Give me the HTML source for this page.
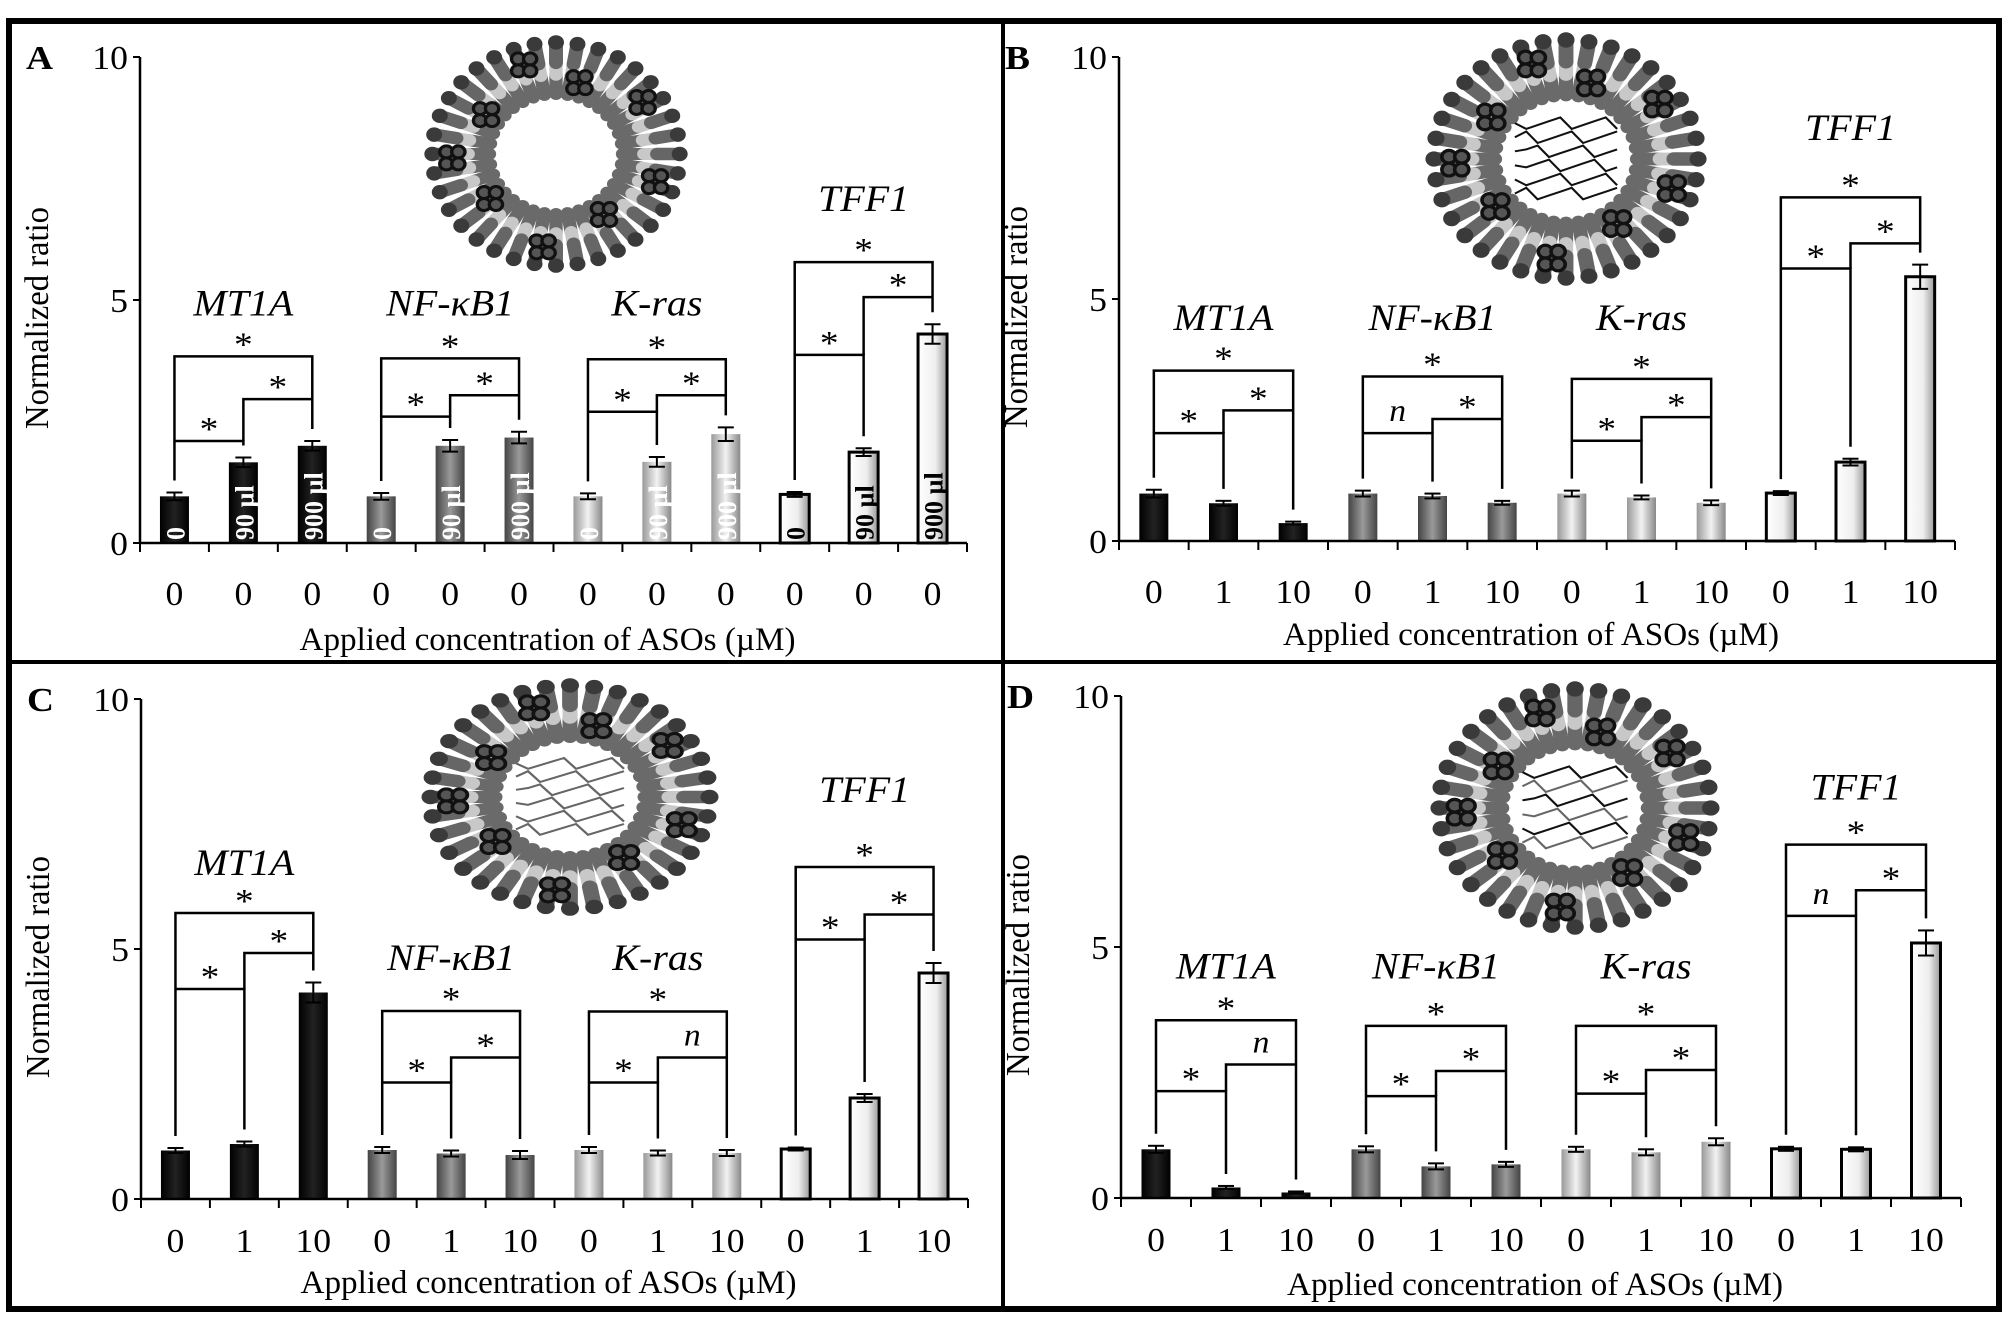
<!DOCTYPE html>
<html><head><meta charset="utf-8"><style>
html,body{margin:0;padding:0;background:#fff}
svg{display:block}
text{font-family:"Liberation Serif",serif;fill:#000}
</style></head><body>
<svg id="fig" width="2008" height="1326" viewBox="0 0 2008 1326" xmlns="http://www.w3.org/2000/svg">
<defs>
<linearGradient id="gNF" x1="0" x2="1"><stop offset="0" stop-color="#444"/><stop offset="0.5" stop-color="#9a9a9a"/><stop offset="1" stop-color="#444"/></linearGradient>
<linearGradient id="gKR" x1="0" x2="1"><stop offset="0" stop-color="#999"/><stop offset="0.5" stop-color="#f2f2f2"/><stop offset="1" stop-color="#888"/></linearGradient>
<linearGradient id="gTF" x1="0" x2="1"><stop offset="0" stop-color="#fff"/><stop offset="0.6" stop-color="#eee"/><stop offset="1" stop-color="#999"/></linearGradient>
<linearGradient id="gMT" x1="0" x2="1"><stop offset="0" stop-color="#000"/><stop offset="0.5" stop-color="#222"/><stop offset="1" stop-color="#000"/></linearGradient>
</defs>
<rect x="9" y="21" width="1990" height="1288" fill="none" stroke="#000" stroke-width="6"/>
<line x1="1003" y1="21" x2="1003" y2="1309" stroke="#000" stroke-width="4"/>
<line x1="9" y1="662" x2="1999" y2="662" stroke="#000" stroke-width="4"/>
</svg>
<script>
// ---- data ----
const genes = ["MT1A", "NF-κB1", "K-ras", "TFF1"];
const panelLetters = ["A", "B", "C", "D"];
const yTicks = [0, 5, 10];
const tickLabelsA = ["0","0","0","0","0","0","0","0","0","0","0","0"];
const tickLabelsBCD = ["0","1","10","0","1","10","0","1","10","0","1","10"];
const barTextA = ["0", "90 µl", "900 µl"];
const valuesA = [0.96,1.66,2.0, 0.96,2.0,2.17, 0.96,1.67,2.24, 1.0,1.87,4.3];
const errorsA = [0.08,0.1,0.1, 0.07,0.12,0.12, 0.06,0.1,0.14, 0.05,0.08,0.2];
const valuesB = [0.98,0.78,0.37, 0.98,0.93,0.79, 0.98,0.9,0.79, 0.99,1.63,5.46];
const errorsB = [0.08,0.05,0.03, 0.06,0.05,0.04, 0.06,0.04,0.05, 0.04,0.07,0.25];
const valuesC = [0.97,1.1,4.13, 0.98,0.91,0.88, 0.98,0.92,0.92, 1.0,2.02,4.52];
const errorsC = [0.05,0.05,0.2, 0.06,0.06,0.08, 0.06,0.05,0.06, 0.03,0.08,0.2];
const valuesD = [0.97,0.21,0.11, 0.97,0.63,0.67, 0.97,0.91,1.12, 0.98,0.97,5.08];
const errorsD = [0.07,0.03,0.02, 0.06,0.06,0.05, 0.05,0.06,0.07, 0.04,0.04,0.25];
// bracket heights per gene: [big, left, right]
const bracketsA = [[3.84,2.1,2.96],[3.8,2.6,3.04],[3.78,2.7,3.04],[5.78,3.87,5.06]];
const bracketsB = [[3.52,2.23,2.7],[3.4,2.23,2.52],[3.35,2.07,2.56],[7.1,5.63,6.15]];
const bracketsC = [[5.72,4.2,4.92],[3.76,2.33,2.83],[3.75,2.33,2.83],[6.64,5.19,5.69]];
const bracketsD = [[3.54,2.13,2.66],[3.43,2.03,2.53],[3.43,2.08,2.55],[7.04,5.62,6.13]];
const sigA = [["*","*","*"],["*","*","*"],["*","*","*"],["*","*","*"]];
const sigB = [["*","*","*"],["*","n","*"],["*","*","*"],["*","*","*"]];
const sigC = [["*","*","*"],["*","*","*"],["*","*","n"],["*","*","*"]];
const sigD = [["*","*","n"],["*","*","*"],["*","*","*"],["*","n","*"]];
const geneLabelY_A = [4.95,4.95,4.95,7.1];
const geneLabelY_B = [4.63,4.63,4.63,8.55];
const geneLabelY_C = [6.74,4.84,4.84,8.2];
const geneLabelY_D = [4.63,4.63,4.63,8.2];

const panels = [
 {id:"a", x0:140, xEnd:967, yTop:57, yBot:543, tickDy:60, titleDy:107, vals:valuesA, errs:errorsA, br:bracketsA, sig:sigA, gl:geneLabelY_A, ticks:tickLabelsA, lip:[556,154,133,120], core:0},
 {id:"b", x0:1119, xEnd:1955, yTop:57, yBot:541, tickDy:60, titleDy:104, vals:valuesB, errs:errorsB, br:bracketsB, sig:sigB, gl:geneLabelY_B, ticks:tickLabelsBCD, lip:[1566,159,142,128], core:1},
 {id:"c", x0:141, xEnd:968, yTop:699, yBot:1199, tickDy:51, titleDy:94, vals:valuesC, errs:errorsC, br:bracketsC, sig:sigC, gl:geneLabelY_C, ticks:tickLabelsBCD, lip:[570,797,150,120], core:2},
 {id:"d", x0:1121, xEnd:1961, yTop:696, yBot:1198, tickDy:51, titleDy:97, vals:valuesD, errs:errorsD, br:bracketsD, sig:sigD, gl:geneLabelY_D, ticks:tickLabelsBCD, lip:[1575,808,146,128], core:3}
];
const fills = ["url(#gMT)","url(#gNF)","url(#gKR)","url(#gTF)"];
const NS="http://www.w3.org/2000/svg";
const svg=document.getElementById("fig");
function mk(tag,attrs,parent){const e=document.createElementNS(NS,tag);for(const k in attrs)e.setAttribute(k,attrs[k]);(parent||svg).appendChild(e);return e;}
function txt(parent,str,x,y,size,sx,extra){
  const a=Object.assign({x:0,y:0,"font-size":size,transform:`translate(${x},${y}) scale(${sx},1)`},extra||{});
  const t=mk("text",a,parent);t.textContent=str;return t;
}

function liposome(g,cx,cy,rx,ry,core){
  const R=ry;
  const lg=mk("g",{transform:`translate(${cx},${cy}) scale(${rx/ry},1)`},g);
  const n=36;
  for(let i=0;i<n;i++){
    const a=i/n*2*Math.PI, c=Math.cos(a), s=Math.sin(a);
    const seg=(r1,r2,col,w)=>mk("line",{x1:c*r1,y1:s*r1,x2:c*r2,y2:s*r2,stroke:col,"stroke-width":w,"stroke-linecap":"round"},lg);
    seg(R*0.5,R*0.66,"#6a6a6a",R*0.1);
    seg(R*0.66,R*0.76,"#c8c8c8",R*0.1);
    seg(R*0.76,R*0.92,"#666",R*0.105);
    mk("circle",{cx:c*R*0.93,cy:s*R*0.93,r:R*0.06,fill:"#3a3a3a"},lg);
  }
  const clusters=[0.3,0.95,1.7,2.5,3.1,3.7,4.4,5.0,5.7];
  clusters.forEach((a,k)=>{
    const r=R*(k%2?0.62:0.78);
    for(let j=0;j<4;j++){
      const x=Math.cos(a)*r+((j%2)-0.5)*R*0.09, y=Math.sin(a)*r+(j<2?-1:1)*R*0.05;
      mk("circle",{cx:x,cy:y,r:R*0.05,fill:"#555",stroke:"#111","stroke-width":R*0.025},lg);
    }
  });
  if(core){
    for(let k=0;k<6;k++){
      const col=core===2?"#666":(core===3&&k%2?"#666":"#111");
      let d="M"+(-R*0.36)+" "+(-R*0.28+k*R*0.11);
      for(let j=1;j<=9;j++) d+=" L"+(-R*0.36+j*R*0.08)+" "+(-R*0.28+k*R*0.11+((j*3+k)%4-1.5)*R*0.03);
      mk("path",{d:d,fill:"none",stroke:col,"stroke-width":2},lg);
    }
  }
}

panels.forEach((p,pi)=>{
  const g=mk("g",{});
  
  
  const slot=(p.xEnd-p.x0)/12;
  const ys=v=>p.yBot-(p.yBot-p.yTop)*v/10;
  const xc=i=>p.x0+slot*(i+0.5);
  const lg=mk("g",{},g);
  
  
  liposome(lg,p.lip[0],p.lip[1],p.lip[2],p.lip[3],p.core);
  const L=txt(g,panelLetters[pi],p.x0-114,p.yTop+12,34,1.1,{"font-weight":"bold"});
  
  
  const ya=mk("line",{x1:p.x0,y1:p.yTop,x2:p.x0,y2:p.yBot,stroke:"#000","stroke-width":2.5},g);
  
  
  yTicks.forEach(t=>{
    mk("line",{x1:p.x0-7,y1:ys(t),x2:p.x0,y2:ys(t),stroke:"#000","stroke-width":2},g);
    const tl=txt(g,String(t),p.x0-12,ys(t)+12,34,1.05,{"text-anchor":"end"});
    
    
  });
  const yt=mk("text",{x:(p.yTop+p.yBot)/2*0,y:0,"font-size":34,"text-anchor":"middle",textLength:222,lengthAdjust:"spacingAndGlyphs",transform:`translate(${p.x0-92},${(p.yTop+p.yBot)/2+18}) rotate(-90)`},g);
  yt.textContent="Normalized ratio";
  
  
  p.vals.forEach((v,i)=>{
    const gi=Math.floor(i/3), w=29, x=xc(i)-w/2;
    const b=mk("rect",{x:x,y:ys(v),width:w,height:ys(0)-ys(v),fill:fills[gi],stroke:gi===3?"#000":"none","stroke-width":gi===3?3:0},g);
    
    
    const e=p.errs[i];
    mk("line",{x1:xc(i),y1:ys(v+e),x2:xc(i),y2:ys(v-e),stroke:"#000","stroke-width":2},g);
    mk("line",{x1:xc(i)-8,y1:ys(v+e),x2:xc(i)+8,y2:ys(v+e),stroke:"#000","stroke-width":2},g);
    mk("line",{x1:xc(i)-8,y1:ys(v-e),x2:xc(i)+8,y2:ys(v-e),stroke:"#000","stroke-width":2},g);
    if(pi===0){
      const s=barTextA[i%3];
      const bt=mk("text",{x:0,y:0,"font-size":26,"font-weight":"bold","text-anchor":"start",transform:`translate(${xc(i)+10},${ys(0)-3}) rotate(-90)`},g);
      bt.style.fill=gi===3?"#000":"#fff";
      bt.textContent=s;
      
      
    }
  });
  const xa=mk("line",{x1:p.x0,y1:p.yBot,x2:p.xEnd,y2:p.yBot,stroke:"#000","stroke-width":2.5},g);
  
  
  for(let k=0;k<=12;k++) mk("line",{x1:p.x0+slot*k,y1:p.yBot,x2:p.x0+slot*k,y2:p.yBot+9,stroke:"#000","stroke-width":2},g);
  p.ticks.forEach((t,i)=>{
    const tl=txt(g,t,xc(i),p.yBot+p.tickDy+2,34,1.05,{"text-anchor":"middle"});
    
    
  });
  const xt=mk("text",{x:(p.x0+p.xEnd)/2-6,y:p.yBot+p.titleDy,"font-size":33,"text-anchor":"middle",textLength:496,lengthAdjust:"spacingAndGlyphs"},g);
  xt.textContent="Applied concentration of ASOs (µM)";
  
  
  genes.forEach((gn,gi)=>{
    const i0=gi*3, x1=xc(i0), x2=xc(i0+1), x3=xc(i0+2);
    const [hb,hl,hr]=p.br[gi];
    const top=i=>ys(p.vals[i]+p.errs[i])-12;
    const st={stroke:"#000","stroke-width":2.5,fill:"none"};
    const big=mk("path",Object.assign({d:`M${x1} ${top(i0)} V${ys(hb)} H${x3} V${top(i0+2)}`},st),g);
    
    
    mk("path",Object.assign({d:`M${x1} ${ys(hl)} H${x2} V${top(i0+1)}`},st),g);
    mk("path",Object.assign({d:`M${x2} ${ys(hl)} V${ys(hr)} H${x3}`},st),g);
    const lab=(s,x,h)=>{
      const t=s==="*"?txt(g,s,x,ys(h)-1,34,1.1,{"text-anchor":"middle"}):txt(g,s,x,ys(h)-12,32,1.05,{"text-anchor":"middle","font-style":"italic"});
      
      };
    lab(p.sig[gi][0],(x1+x3)/2,hb);
    lab(p.sig[gi][1],(x1+x2)/2,hl);
    lab(p.sig[gi][2],(x2+x3)/2,hr);
    const gt=txt(g,gn,(x1+x3)/2,ys(p.gl[gi])+13,37,1.08,{"font-style":"italic","text-anchor":"middle"});
    
    
  });
});
</script>
</body></html>
